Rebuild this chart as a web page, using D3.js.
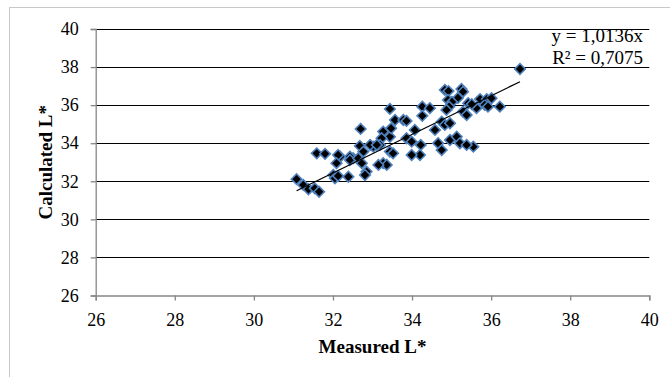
<!DOCTYPE html>
<html>
<head>
<meta charset="utf-8">
<script src="https://cdn.jsdelivr.net/npm/d3@7"></script>
<style>
  body { margin: 0; background: #fff; }
  svg text { font-family: "Liberation Serif", "Times New Roman", serif; fill: #000; }
</style>
</head>
<body>
<div id="chart"></div>
<script>
// measured vs calculated L* values
const measured = [
  36.73, 34.83, 34.92, 35.25, 35.29, 35.16, 34.91, 35.01, 35.72, 35.89,
  36.01, 36.22, 35.63, 35.84, 35.92, 34.94, 34.87, 35.29, 35.38, 35.42,
  35.51, 34.26, 34.45, 34.26, 34.75, 34.83, 34.58, 34.96, 34.96, 35.13,
  35.21, 35.55, 35.38, 34.66, 34.75, 34.22, 33.44, 32.70, 33.57, 33.78,
  33.86, 33.27, 33.44, 33.23, 34.07, 33.86, 33.99, 32.68, 32.77, 32.51,
  32.43, 33.02, 33.19, 33.44, 33.52, 34.20, 33.99, 32.18, 33.27, 33.36,
  31.59, 31.80, 32.13, 32.09, 32.43, 32.64, 32.73, 32.94, 33.11, 32.01,
  32.05, 32.13, 32.39, 32.85, 32.81, 31.08, 31.25, 31.38, 31.54, 31.65,
  33.15, 33.47
];
const calculated = [
  37.90, 36.80, 36.74, 36.85, 36.71, 36.38, 36.27, 36.17, 36.32, 36.32,
  36.36, 35.92, 35.84, 36.01, 35.92, 35.92, 35.75, 35.66, 35.48, 36.10,
  36.05, 35.92, 35.84, 35.44, 35.13, 34.96, 34.70, 35.05, 34.17, 34.34,
  34.00, 33.82, 33.91, 34.00, 33.64, 33.91, 35.80, 34.75, 35.22, 35.22,
  35.17, 34.61, 34.34, 34.26, 34.70, 34.26, 34.08, 33.86, 33.56, 33.21,
  33.29, 33.82, 33.91, 33.56, 33.47, 33.38, 33.38, 33.29, 32.95, 32.86,
  33.47, 33.44, 33.38, 32.95, 33.12, 33.21, 32.95, 33.91, 33.91, 32.33,
  32.16, 32.28, 32.24, 32.51, 32.33, 32.11, 31.81, 31.58, 31.63, 31.45,
  32.86, 34.78
];
const xTicks = [26, 28, 30, 32, 34, 36, 38, 40];
const yTicks = [26, 28, 30, 32, 34, 36, 38, 40];
const slope = 1.0136;
const equationLines = ['y = 1,0136x', 'R\u00b2 = 0,7075'];
const xTitle = 'Measured L*';
const yTitle = 'Calculated L*';

const width = 670;
const height = 377;
const plot = { left: 95.7, right: 649.3, top: 29, bottom: 295.5 };

const svg = d3.select('#chart')
  .append('svg')
  .attr('width', width)
  .attr('height', height);

// chart area border (runs off the right and bottom edges)
svg.append('rect')
  .attr('x', 9.5)
  .attr('y', 7.5)
  .attr('width', 700)
  .attr('height', 400)
  .attr('fill', '#fff')
  .attr('stroke', '#c8c8c8');

const x = d3.scaleLinear()
  .domain([26, 40])
  .range([plot.left, plot.right]);

const y = d3.scaleLinear()
  .domain([26, 40])
  .range([plot.bottom, plot.top]);

// horizontal gridlines
svg.append('g')
  .selectAll('line')
  .data(yTicks.slice(1))
  .enter()
  .append('line')
  .attr('x1', plot.left)
  .attr('x2', plot.right)
  .attr('y1', d => Math.round(y(d)) + 0.5)
  .attr('y2', d => Math.round(y(d)) + 0.5)
  .attr('stroke', '#000')
  .attr('stroke-width', 1);

const xAxis = svg.append('g')
  .attr('transform', `translate(0, ${plot.bottom})`)
  .call(d3.axisBottom(x).tickValues(xTicks).tickSize(5).tickPadding(13).tickFormat(d3.format('d')));

const yAxis = svg.append('g')
  .attr('transform', `translate(${plot.left}, 0)`)
  .call(d3.axisLeft(y).tickValues(yTicks).tickSize(5).tickPadding(12).tickFormat(d3.format('d')));

[xAxis, yAxis].forEach(ax => {
  ax.select('.domain').attr('stroke', '#868686').attr('stroke-width', 1.3);
  ax.selectAll('.tick line').attr('stroke', '#868686').attr('stroke-width', 1.3);
  ax.selectAll('.tick text')
    .attr('font-size', 18)
    .attr('font-family', '"Liberation Serif", "Times New Roman", serif')
    .attr('fill', '#000');
});

// markers
const points = measured.map((m, i) => ({ m, c: calculated[i] }));
const diamond = d3.symbol().type(d3.symbolSquare).size(56);

svg.append('g')
  .selectAll('path')
  .data(points)
  .enter()
  .append('path')
  .attr('d', diamond)
  .attr('transform', d => `translate(${x(d.m)}, ${y(d.c)}) rotate(45)`)
  .attr('fill', '#000')
  .attr('stroke', '#4f81bd')
  .attr('stroke-width', 1.6);

// linear trendline through origin, spanning the data range
const xExt = d3.extent(measured);
svg.append('path')
  .datum(xExt)
  .attr('d', d3.line().x(d => x(d)).y(d => y(slope * d)))
  .attr('stroke', '#000')
  .attr('stroke-width', 1.3)
  .attr('fill', 'none');

// trendline equation
svg.append('g')
  .selectAll('text')
  .data(equationLines)
  .enter()
  .append('text')
  .attr('x', 643)
  .attr('y', (d, i) => 41.5 + i * 22.5)
  .attr('text-anchor', 'end')
  .attr('font-size', 19)
  .text(d => d);

// axis titles
svg.append('text')
  .attr('x', (plot.left + plot.right) / 2)
  .attr('y', 352.5)
  .attr('text-anchor', 'middle')
  .attr('font-size', 19)
  .attr('font-weight', 'bold')
  .text(xTitle);

svg.append('text')
  .attr('transform', `translate(51.5, ${(plot.top + plot.bottom) / 2}) rotate(-90)`)
  .attr('text-anchor', 'middle')
  .attr('font-size', 19)
  .attr('font-weight', 'bold')
  .text(yTitle);
</script>
</body>
</html>
